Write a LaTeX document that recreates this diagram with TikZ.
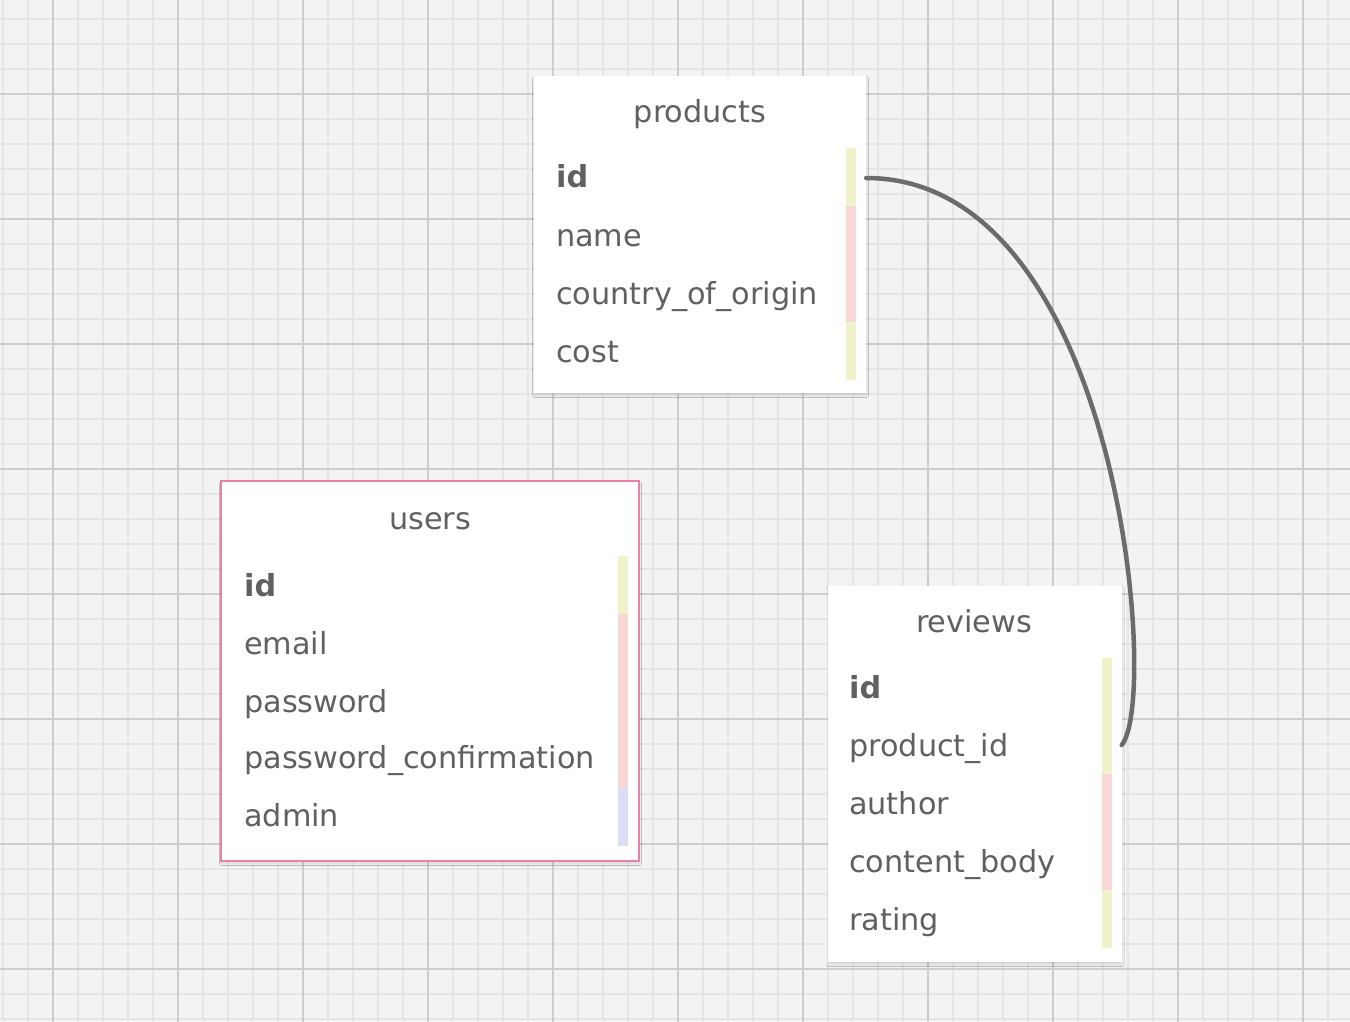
\documentclass[tikz,border=0pt]{standalone}
\usepackage{fontspec}
\setmainfont{DejaVu Sans}
\usetikzlibrary{shadows.blur}
\definecolor{bgc}{HTML}{F3F3F3}
\definecolor{minorc}{HTML}{E5E5E5}
\definecolor{majorc}{HTML}{CDCDCD}
\definecolor{txt}{HTML}{606060}
\definecolor{ykey}{HTML}{F1F2C9}
\definecolor{pkey}{HTML}{F8D8D7}
\definecolor{lkey}{HTML}{DCDCF7}
\definecolor{pinkb}{HTML}{EA82A6}
\definecolor{linkc}{HTML}{6B6B6B}
\tikzset{
  tablebox/.style={fill=white, draw=none, inner sep=0pt,
    blur shadow={shadow xshift=0.5pt, shadow yshift=-2.5pt, shadow blur radius=2pt, shadow opacity=12}},
  selbox/.style={tablebox, draw=pinkb, line width=1.6pt},
  ttitle/.style={anchor=base, inner sep=0pt, text=txt, font=\fontsize{30.3}{36}\selectfont},
  field/.style={anchor=base west, inner sep=0pt, text=txt, font=\fontsize{30.3}{36}\selectfont},
  keyfield/.style={field, font=\fontsize{30.3}{36}\selectfont\bfseries},
  link/.style={draw=linkc, line width=4.5pt, line cap=round}
}
\begin{document}
\begin{tikzpicture}[x=1pt,y=-1pt]
\useasboundingbox (0,0) rectangle (1350,1022);
% background grid
\fill[bgc] (0,0) rectangle (1350,1022);
\foreach \i in {0,...,53} {
  \draw[minorc, line width=2pt] ({2.7+25*\i},0) -- ({2.7+25*\i},1022);
}
\foreach \j in {-1,...,40} {
  \draw[minorc, line width=2pt] (0,{19.3+25*\j}) -- (1350,{19.3+25*\j});
}
\foreach \i in {0,...,10} {
  \draw[majorc, line width=2pt] ({52.7+125*\i},0) -- ({52.7+125*\i},1022);
}
\foreach \j in {0,...,7} {
  \draw[majorc, line width=2pt] (0,{94.3+125*\j}) -- (1350,{94.3+125*\j});
}

% products
\node[tablebox, minimum width=332pt, minimum height=317pt] (products) at (700,234.5) {};
\node[ttitle] (products-title) at (700,123) {products};
\node[keyfield] (p-id) at (556,188) {id};
\node[field] (p-name) at (556,246) {name};
\node[field] (p-country) at (556,304) {country\_of\_origin};
\node[field] (p-cost) at (556,362) {cost};
\fill[ykey] (846,148) rectangle (856,206);
\fill[pkey] (846,206) rectangle (856,322);
\fill[ykey] (846,322) rectangle (856,380);

% users
\node[selbox, minimum width=418pt, minimum height=380pt] (users) at (430,671) {};
\node[ttitle] (users-title) at (430,529) {users};
\node[keyfield] (u-id) at (244,596) {id};
\node[field] (u-email) at (244,654) {email};
\node[field] (u-password) at (244,712) {password};
\node[field] (u-confirm) at (244,768) {password\_confirmation};
\node[field] (u-admin) at (244,826) {admin};
\fill[ykey] (618,556) rectangle (628,614);
\fill[pkey] (618,614) rectangle (628,788);
\fill[lkey] (618,788) rectangle (628,846);

% reviews
\node[tablebox, minimum width=294pt, minimum height=376pt] (reviews) at (974.5,774) {};
\node[ttitle] (reviews-title) at (974,632) {reviews};
\node[keyfield] (r-id) at (849,698) {id};
\node[field] (r-product) at (849,756) {product\_id};
\node[field] (r-author) at (849,814) {author};
\node[field] (r-content) at (849,872) {content\_body};
\node[field] (r-rating) at (849,930) {rating};
\fill[ykey] (1102,658) rectangle (1112,774);
\fill[pkey] (1102,774) rectangle (1112,890);
\fill[ykey] (1102,890) rectangle (1112,948);

% relation
\coordinate (p-id-port) at (products.east |- 0,178);
\coordinate (r-product-port) at (reviews.east |- 0,745);
\draw[link] (p-id-port) .. controls (1120,178) and (1160,700) .. (r-product-port);
\end{tikzpicture}
\end{document}
